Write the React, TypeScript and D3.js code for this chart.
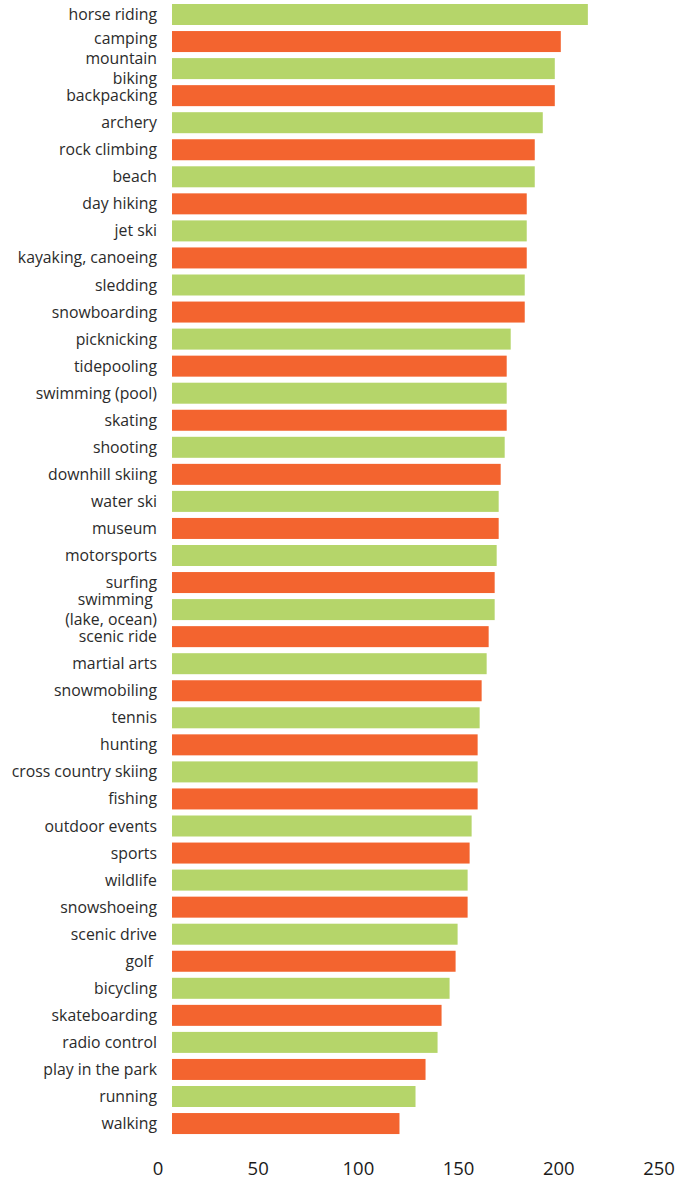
import React from "react";
import * as d3 from "d3";

const categories: string[] = [
  "horse riding", "camping", "mountain\nbiking", "backpacking", "archery",
  "rock climbing", "beach", "day hiking", "jet ski", "kayaking, canoeing",
  "sledding", "snowboarding", "picknicking", "tidepooling", "swimming (pool)",
  "skating", "shooting", "downhill skiing", "water ski", "museum",
  "motorsports", "surfing", "swimming \n(lake, ocean)", "scenic ride", "martial arts",
  "snowmobiling", "tennis", "hunting", "cross country skiing", "fishing",
  "outdoor events", "sports", "wildlife", "snowshoeing", "scenic drive",
  "golf ", "bicycling", "skateboarding", "radio control", "play in the park",
  "running", "walking",
];

const values: number[] = [
  214.5, 201, 198, 198, 192,
  188, 188, 184, 184, 184,
  183, 183, 176, 174, 174,
  174, 173, 171, 170, 170,
  169, 168, 168, 165, 164,
  161.5, 160.5, 159.5, 159.5, 159.5,
  156.5, 155.5, 154.5, 154.5, 149.5,
  148.5, 145.5, 141.5, 139.5, 133.5,
  128.5, 120.5,
];

const tickValues: number[] = [0, 50, 100, 150, 200, 250];
const barColors: string[] = ["#b5d56a", "#f3642f"];

export default function App() {
  const width = 678;
  const height = 1180;
  const n = categories.length;
  const x = d3.scaleLinear().domain([0, 250]).range([158, 659]);
  const barStart = 172;
  const step = 27.05;
  const p = 6.05 / step;
  const y0 = 4 - (p / 2) * step;
  const y = d3
    .scaleBand<number>()
    .domain(d3.range(n))
    .range([y0, y0 + n * step])
    .paddingInner(p)
    .paddingOuter(p / 2);
  const font = "'Open Sans', 'Noto Sans', sans-serif";
  return (
    <svg
      width={width}
      height={height}
      style={{ position: "absolute", left: 0, top: 0, background: "#fff" }}
    >
      {categories.map((c, i) => {
        const yy = y(i)!;
        const bw = y.bandwidth();
        const lines = c.split("\n");
        const cy = yy + bw / 2;
        const lh = 19.5;
        return (
          <g key={i}>
            <rect
              x={barStart}
              y={yy}
              width={x(values[i]) - barStart}
              height={bw}
              fill={barColors[i % 2]}
            />
            <text
              x={157}
              textAnchor="end"
              fontFamily={font}
              fontSize={15.8}
              fill="#2b2b2b"
              style={{ whiteSpace: "pre" }}
            >
              {lines.map((l, j) => (
                <tspan
                  key={j}
                  x={157}
                  y={cy + 5.5 + (j - (lines.length - 1) / 2) * lh - (i === 1 ? 3 : 0)}
                >
                  {l}
                </tspan>
              ))}
            </text>
          </g>
        );
      })}
      {tickValues.map((t) => (
        <text
          key={t}
          x={x(t)}
          y={1175}
          textAnchor="middle"
          fontFamily={font}
          fontSize={18.5}
          fill="#1a1a1a"
        >
          {t}
        </text>
      ))}
    </svg>
  );
}
